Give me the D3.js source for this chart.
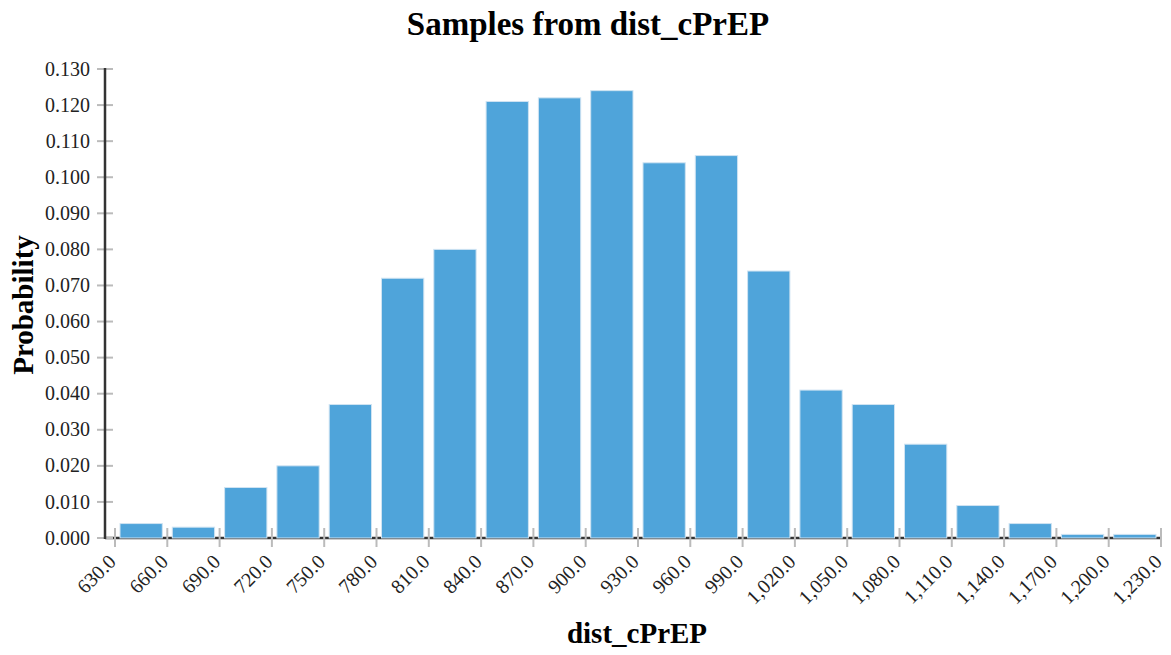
<!DOCTYPE html>
<html>
<head>
<meta charset="utf-8">
<script src="https://cdn.jsdelivr.net/npm/d3@7"></script>
<style>
  html, body { margin: 0; padding: 0; background: #fff; }
</style>
</head>
<body>
<div id="chart"></div>
<script>
// Histogram of samples: bin left edges and probabilities
const binStarts = [630, 660, 690, 720, 750, 780, 810, 840, 870, 900,
                   930, 960, 990, 1020, 1050, 1080, 1110, 1140, 1170, 1200];
const probabilities = [0.004, 0.003, 0.014, 0.020, 0.037, 0.072, 0.080, 0.121, 0.122, 0.124,
                       0.104, 0.106, 0.074, 0.041, 0.037, 0.026, 0.009, 0.004, 0.001, 0.001];
const binWidth = 30;
const xTicks = d3.range(630, 1231, 30);
const yTicks = d3.range(0, 0.1301, 0.01);

const W = 1171, H = 655;
const M = { top: 69, right: 10, bottom: 117, left: 115 };
const axisX = 105; // y-axis line sits a bit left of the first bin

const svg = d3.select("#chart").append("svg")
  .attr("width", W)
  .attr("height", H)
  .attr("font-family", "'Liberation Serif', 'Times New Roman', serif");

const x = d3.scaleLinear().domain([630, 1230]).range([M.left, W - M.right]);
const y = d3.scaleLinear().domain([0, 0.13]).range([H - M.bottom, M.top]);
const y0 = y(0);

// x axis baseline, mostly hidden behind the bars
svg.append("line")
  .attr("x1", axisX).attr("x2", x(1230))
  .attr("y1", y0).attr("y2", y0)
  .attr("stroke", "#333").attr("stroke-width", 2.5);

// x ticks
const gx = svg.append("g");
gx.selectAll("line")
  .data(xTicks)
  .join("line")
    .attr("x1", d => x(d)).attr("x2", d => x(d))
    .attr("y1", y0 - 10).attr("y2", y0 + 9)
    .attr("stroke", "#bbb").attr("stroke-width", 2);

// bars
svg.append("g").selectAll("rect")
  .data(binStarts.map((s, i) => ({ s, p: probabilities[i] })))
  .join("rect")
    .attr("x", d => x(d.s) + 5)
    .attr("width", d => x(d.s + binWidth) - x(d.s) - 10)
    .attr("y", d => y(d.p))
    .attr("height", d => y0 - y(d.p))
    .attr("fill", "#4fa4da")
    .attr("stroke", "#cfe3f2")
    .attr("stroke-width", 1);

gx.raise();
gx.selectAll("text")
  .data(xTicks)
  .join("text")
    .attr("transform", d => `translate(${x(d) + 2},${y0 + 25}) rotate(-45)`)
    .attr("text-anchor", "end")
    .attr("font-size", 20)
    .attr("fill", "#222")
    .text(d => d3.format(",.1f")(d));

// y axis
const gy = svg.append("g");
gy.selectAll("line")
  .data(yTicks)
  .join("line")
    .attr("x1", axisX - 8).attr("x2", axisX + 8)
    .attr("y1", d => y(d)).attr("y2", d => y(d))
    .attr("stroke", "#bbb").attr("stroke-width", 2);
gy.append("line")
  .attr("x1", axisX).attr("x2", axisX)
  .attr("y1", y(0.13) - 1).attr("y2", y0 + 1)
  .attr("stroke", "#333").attr("stroke-width", 2.5);
gy.selectAll("text")
  .data(yTicks)
  .join("text")
    .attr("x", axisX - 15)
    .attr("y", d => y(d))
    .attr("dy", "0.33em")
    .attr("text-anchor", "end")
    .attr("font-size", 20)
    .attr("fill", "#222")
    .text(d => d3.format(".3f")(d));

// title and axis labels
svg.append("text")
  .attr("x", 588).attr("y", 35)
  .attr("text-anchor", "middle")
  .attr("font-size", 33).attr("font-weight", "bold")
  .text("Samples from dist_cPrEP");

svg.append("text")
  .attr("x", 637).attr("y", 643)
  .attr("text-anchor", "middle")
  .attr("font-size", 29).attr("font-weight", "bold")
  .text("dist_cPrEP");

svg.append("text")
  .attr("transform", "translate(33,305) rotate(-90)")
  .attr("text-anchor", "middle")
  .attr("font-size", 29).attr("font-weight", "bold")
  .text("Probability");
</script>
</body>
</html>
